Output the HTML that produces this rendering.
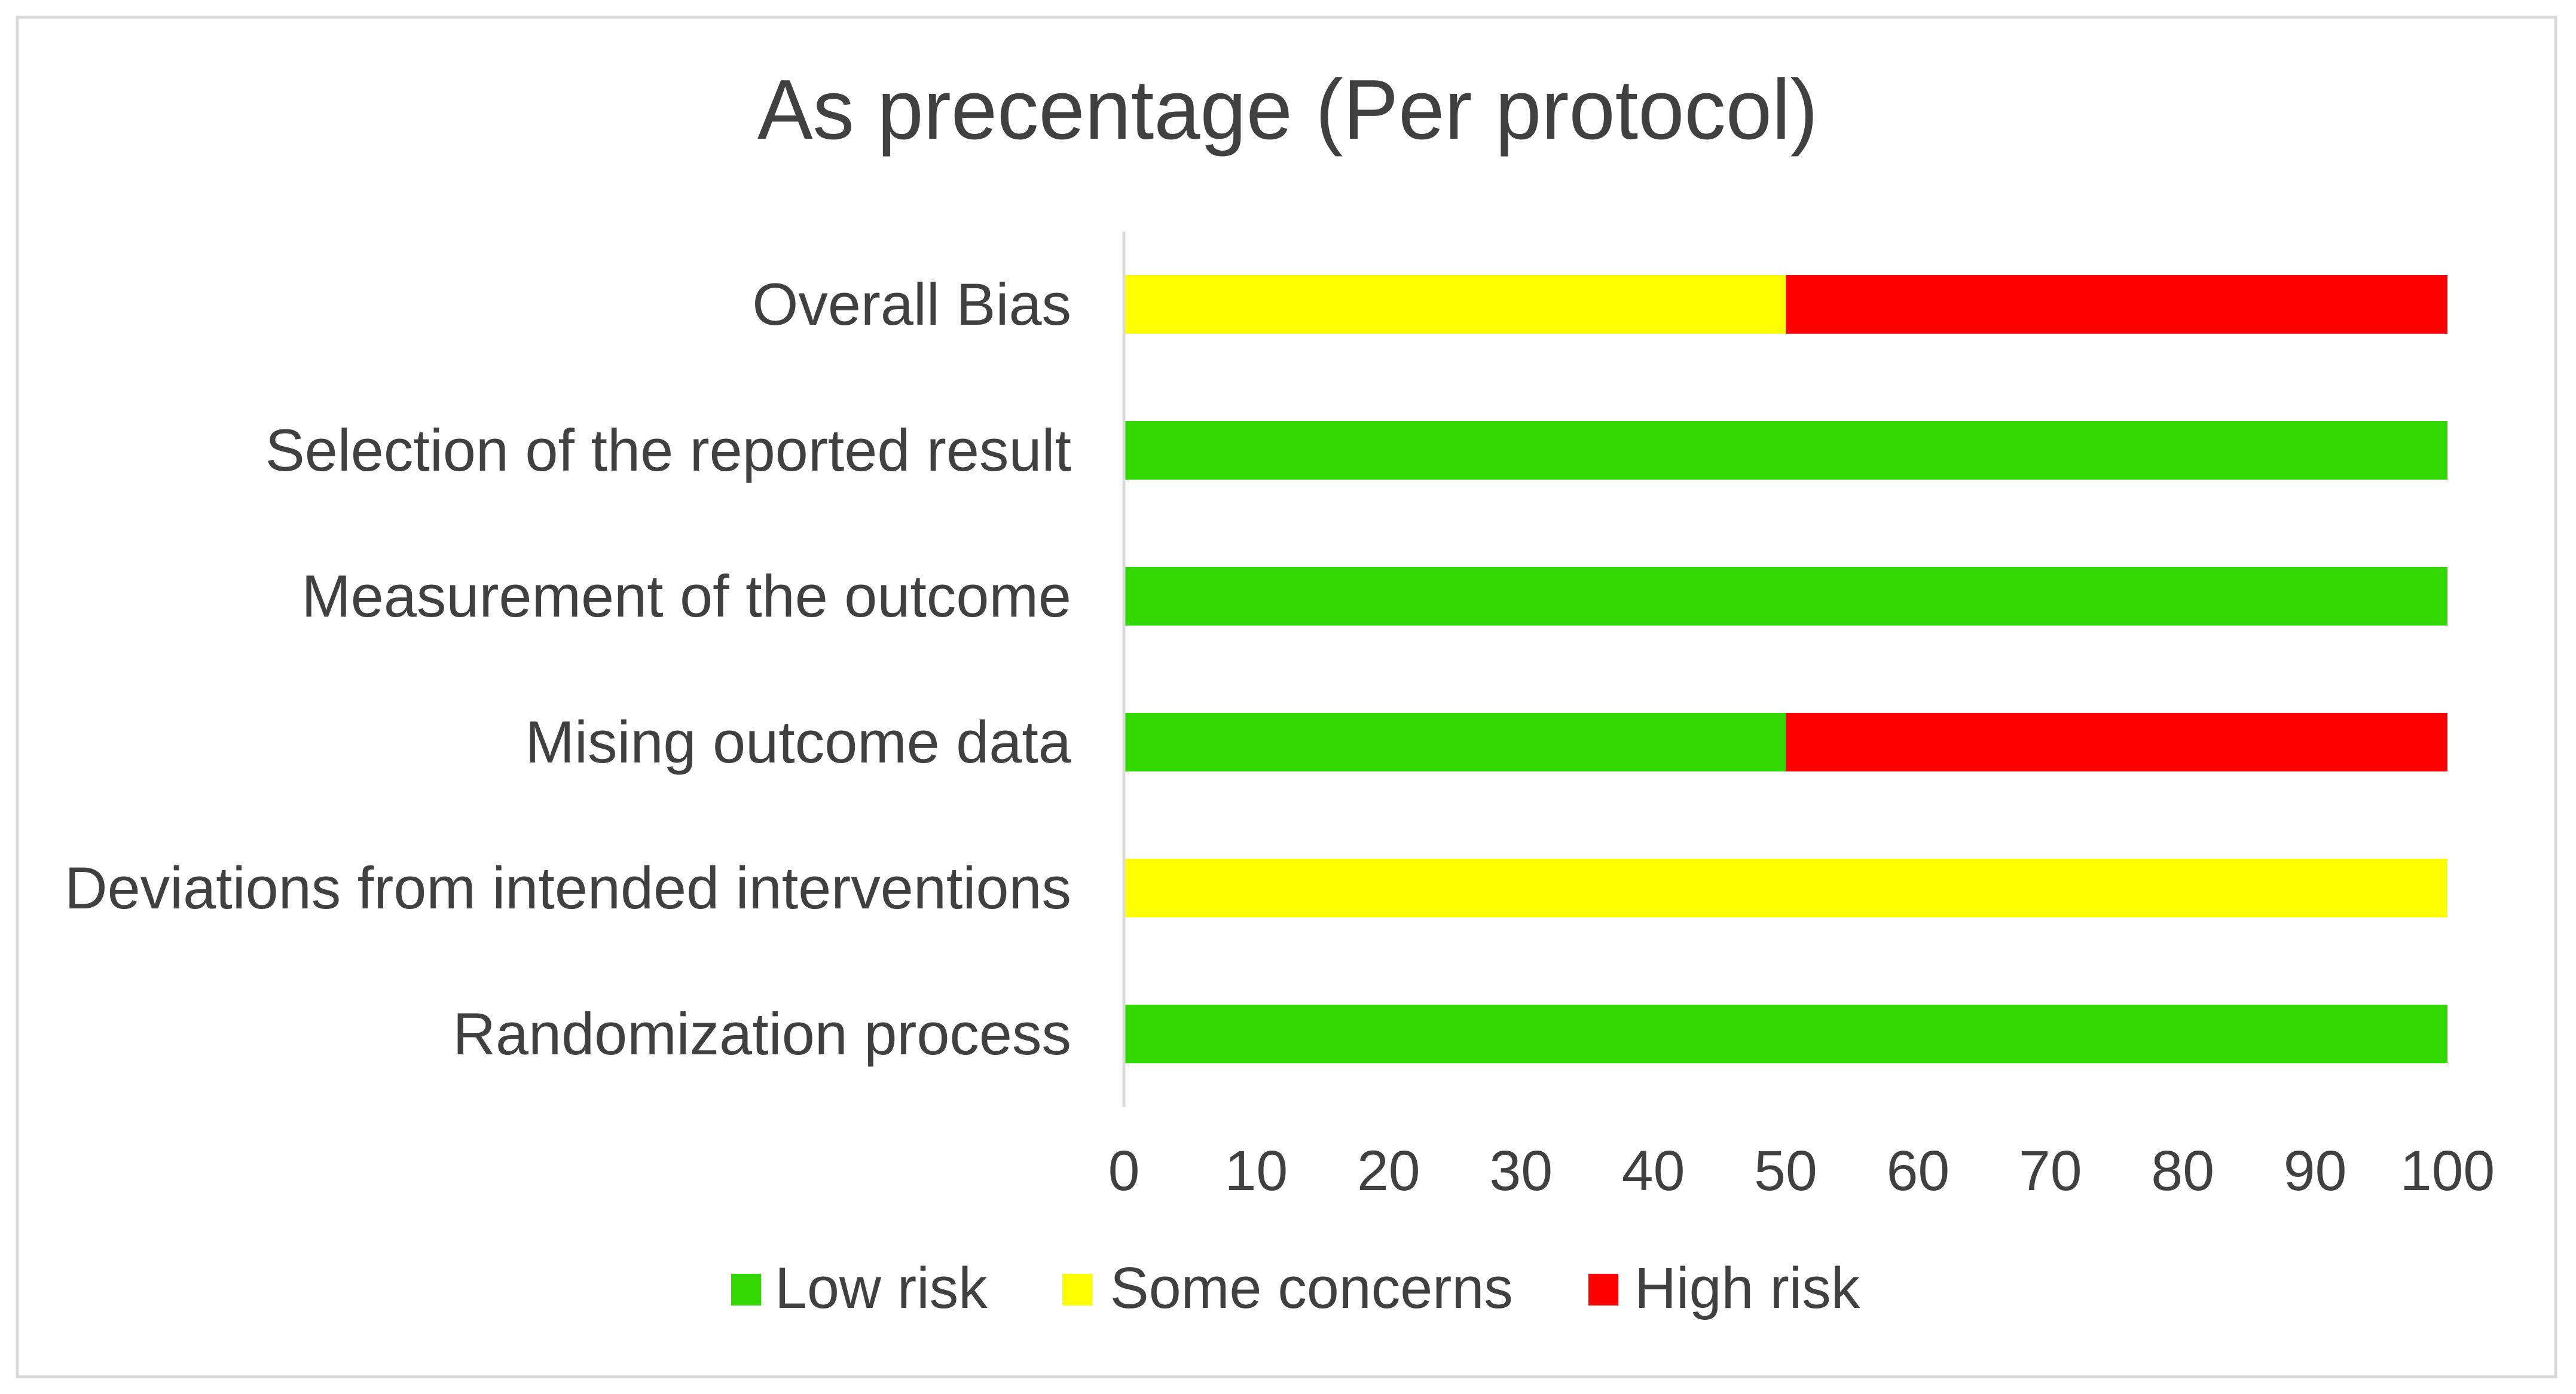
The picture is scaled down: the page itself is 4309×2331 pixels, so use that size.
<!DOCTYPE html>
<html><head><meta charset="utf-8"><style>
html,body{margin:0;padding:0;background:#fff;}
svg{display:block;font-family:"Liberation Sans",Arial,sans-serif;}
</style></head><body>
<svg id="chart" width="4309" height="2331" viewBox="0 0 4309 2331" xmlns="http://www.w3.org/2000/svg">
<rect x="29" y="29" width="4246" height="2273" fill="#fff" stroke="#d9d9d9" stroke-width="5"/>
<text x="2154" y="232" text-anchor="middle" font-size="142" fill="#404040" textLength="1774" lengthAdjust="spacingAndGlyphs">As precentage (Per protocol)</text>
<g id="plot"></g>
<g id="legend">
<rect x="1223" y="2130" width="50" height="53" fill="#33d600"/>
<text x="1296" y="2187" font-size="97" fill="#404040">Low risk</text>
<rect x="1777" y="2130" width="50" height="53" fill="#ffff00"/>
<text x="1857" y="2187" font-size="97" fill="#404040">Some concerns</text>
<rect x="2657" y="2130" width="50" height="53" fill="#ff0000"/>
<text x="2734" y="2187" font-size="97" fill="#404040">High risk</text>
</g>
</svg>
<script>
const categories = ["Overall Bias","Selection of the reported result","Measurement of the outcome","Mising outcome data","Deviations from intended interventions","Randomization process"];
const lowRisk = [0,100,100,50,0,100];
const someConcerns = [50,0,0,0,100,0];
const highRisk = [50,0,0,50,0,0];
const tickValues = [0,10,20,30,40,50,60,70,80,90,100];

const NS = "http://www.w3.org/2000/svg";
const g = document.getElementById("plot");
const x0 = 1880, x1 = 4094, yTop = 387, yBot = 1851;
const xScale = v => x0 + (v / 100) * (x1 - x0);
const band = (yBot - yTop) / categories.length;
const yCenter = i => yTop + band * (i + 0.5);
const barH = 98;

function mk(tag, attrs) {
  const e = document.createElementNS(NS, tag);
  for (const k in attrs) e.setAttribute(k, attrs[k]);
  g.appendChild(e);
  return e;
}

const series = [
  {vals: lowRisk, color: "#33d600", key: "low-risk"},
  {vals: someConcerns, color: "#ffff00", key: "some-concerns"},
  {vals: highRisk, color: "#ff0000", key: "high-risk"}
];

categories.forEach((c, i) => {
  let acc = 0;
  series.forEach(s => {
    const v = s.vals[i];
    if (v > 0) {
      const r = mk("rect", {x: xScale(acc), y: yCenter(i) - barH / 2, width: xScale(acc + v) - xScale(acc), height: barH, fill: s.color});
      
      
    }
    acc += v;
  });
  const t = mk("text", {x: 1792, y: yCenter(i) + 34, "text-anchor": "end", "font-size": 99, fill: "#404040"});
  t.textContent = c;
  
  
});

const axis = mk("line", {x1: x0, y1: yTop, x2: x0, y2: yBot, stroke: "#d9d9d9", "stroke-width": 5});



tickValues.forEach(v => {
  const t = mk("text", {x: xScale(v), y: 1990, "text-anchor": "middle", "font-size": 95, fill: "#404040"});
  t.textContent = String(v);
  
  
});
</script>
</body></html>
